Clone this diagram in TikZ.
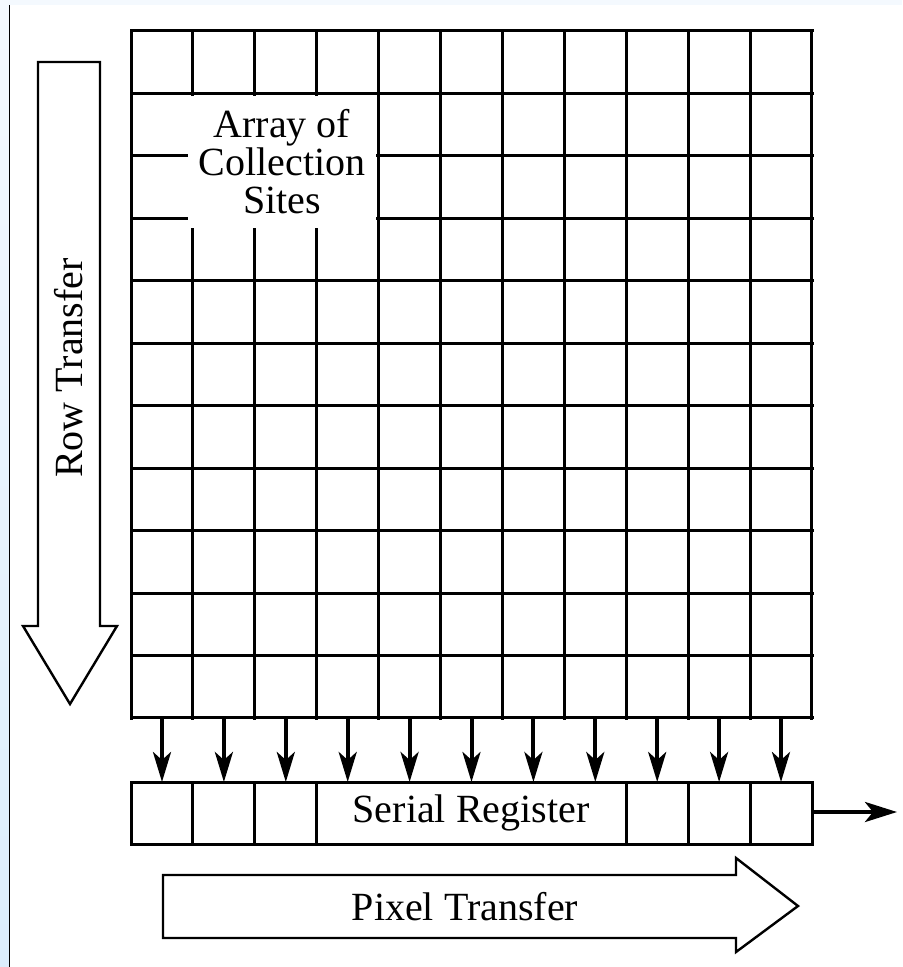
\documentclass[tikz,border=0pt]{standalone}
\usepackage{fontspec}
\setmainfont{Liberation Serif}
\usetikzlibrary{arrows.meta}
\definecolor{stripA}{HTML}{F4F9FE}
\definecolor{stripB}{HTML}{DCEEFD}
\tikzset{
  gridline/.style={line width=1.5pt, line cap=rect},
  bigarrow/.style={line width=1.2pt, line join=miter, fill=white},
  transfer/.style={-{Stealth[length=15pt,width=9pt,inset=4pt]}, line width=2pt},
  lbl/.style={font=\fontsize{20}{19}\selectfont, align=center, inner sep=0pt},
}
\begin{document}
\begin{tikzpicture}[x=0.5pt,y=-0.5pt]
\useasboundingbox (0,0) rectangle (902,967);
% background strips
\fill[stripA] (0,0) rectangle (902,5);
\shade[top color=stripA, bottom color=stripB] (0,5) rectangle (9,967);
\draw[line width=0.8pt] (9.5,5) -- (9.5,967);
% grid of collection sites
\def\cw{61.9}
\def\rh{62.45}
\foreach \i in {0,...,11} {
  \draw[gridline] ({131+\i*\cw},31) -- ({131+\i*\cw},718);
  \draw[gridline] (131,{31+\i*\rh}) -- (812,{31+\i*\rh});
}
\node[lbl, fill=white, minimum width=94pt, minimum height=66pt] (array) at (282,162)
  {Array of\\Collection\\Sites};
% serial register
\draw[gridline] (131,782) rectangle (812,844);
\foreach \i in {1,2,3,8,9,10} {
  \draw[gridline] ({131+\i*\cw},782) -- ({131+\i*\cw},844);
}
\node[lbl] (serial) at (471,813) {Serial Register};
% transfer arrows from grid to register
\foreach \i in {0,...,10} {
  \coordinate (a\i) at ({162+\i*\cw},718);
  \coordinate (b\i) at ({162+\i*\cw},782);
  \draw[transfer] (a\i) -- (b\i);
}
\coordinate (outA) at (812,812);
\coordinate (outB) at (897,812);
\draw[-{Stealth[length=16pt,width=10pt,inset=4pt]}, line width=2pt] (outA) -- (outB);
% row transfer hollow arrow
\draw[bigarrow] (38,62) -- (100,62) -- (100,626) -- (117,626) -- (70,704) -- (23,626) -- (38,626) -- cycle;
\node[lbl, rotate=90] (row) at (69,368) {Row Transfer};
% pixel transfer hollow arrow
\draw[bigarrow] (163,875) -- (736,875) -- (736,858) -- (798,906) -- (736,952) -- (736,938) -- (163,938) -- cycle;
\node[lbl] (pixel) at (465,907) {Pixel Transfer};
\end{tikzpicture}
\end{document}
